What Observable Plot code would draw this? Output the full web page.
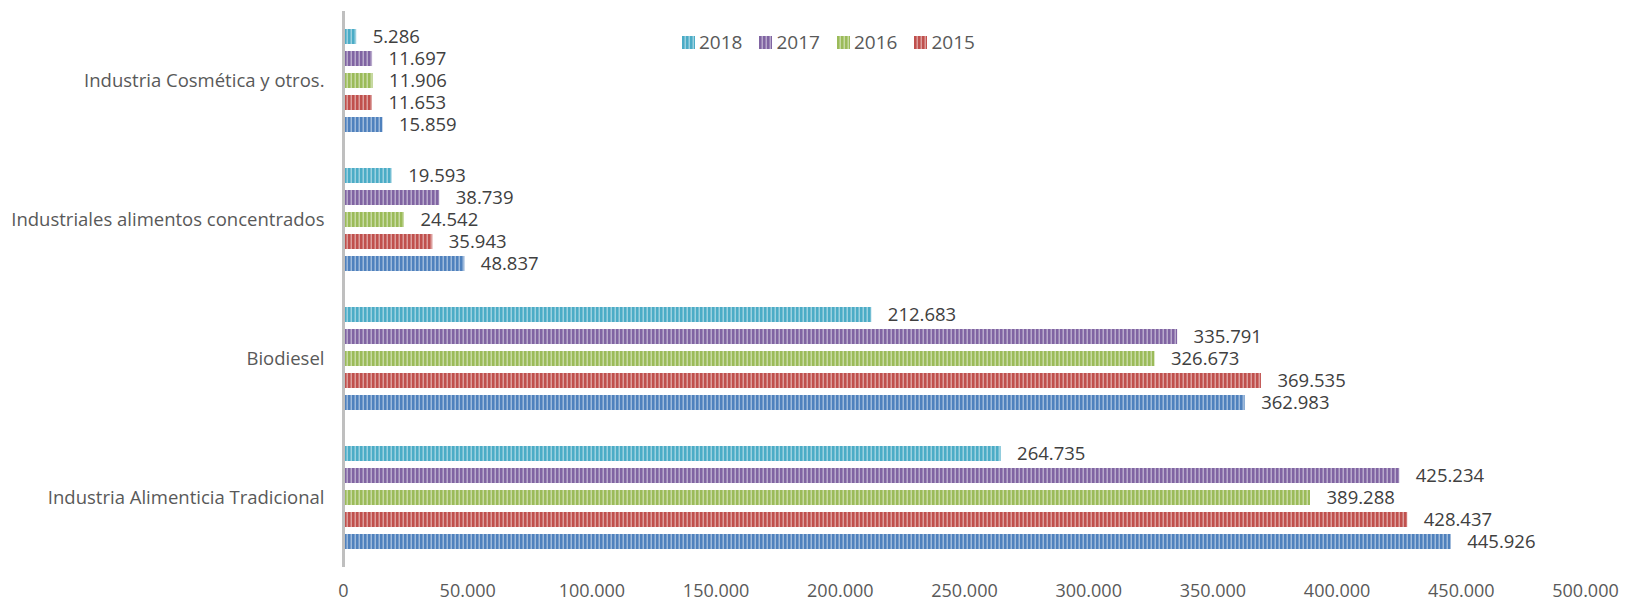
<!DOCTYPE html>
<html>
<head>
<meta charset="utf-8">
<script src="https://cdn.jsdelivr.net/npm/d3@7"></script>
<script src="https://cdn.jsdelivr.net/npm/@observablehq/plot@0.6"></script>
<style>
  html, body { margin: 0; padding: 0; background: #fff; }
  #wrap { position: relative; width: 1628px; height: 604px; font-family: "Open Sans", sans-serif; }
  #legend { position: absolute; top: 29px; left: 682px; display: flex; align-items: center; font-size: 19px; color: #595959; }
  #legend .item { display: flex; align-items: center; margin-right: 17px; }
  #legend svg { margin-right: 4px; }
</style>
</head>
<body>
<svg width="0" height="0" style="position:absolute">
  <defs id="defs"></defs>
</svg>
<div id="wrap">
  <div id="chart"></div>
  <div id="legend"></div>
</div>
<script>
const categories = ["Industria Cosmética y otros.", "Industriales alimentos concentrados", "Biodiesel", "Industria Alimenticia Tradicional"];
const series = ["2018", "2017", "2016", "2015", "2014"];
const legendSeries = ["2018", "2017", "2016", "2015"];
const v2018 = [5286, 19593, 212683, 264735];
const v2017 = [11697, 38739, 335791, 425234];
const v2016 = [11906, 24542, 326673, 389288];
const v2015 = [11653, 35943, 369535, 428437];
const v2014 = [15859, 48837, 362983, 445926];
const xTicks = [0, 50000, 100000, 150000, 200000, 250000, 300000, 350000, 400000, 450000, 500000];
const colors = ["#4BACC6", "#8064A2", "#9BBB59", "#C0504D", "#4F81BD"];

const valuesBySeries = {"2018": v2018, "2017": v2017, "2016": v2016, "2015": v2015, "2014": v2014};
const data = [];
categories.forEach((c, i) => series.forEach(s => data.push({category: c, series: s, value: valuesBySeries[s][i]})));

const locale = d3.formatLocale({decimal: ",", thousands: ".", grouping: [3], currency: ["", ""]});
const fmt = locale.format(",d");

// striped patterns
const defs = d3.select("#defs");
series.forEach((s, i) => {
  const light = d3.interpolateRgb(colors[i], "#ffffff")(0.45);
  const p = defs.append("pattern").attr("id", "pat" + s).attr("patternUnits", "userSpaceOnUse")
    .attr("width", 4).attr("height", 4);
  p.append("rect").attr("width", 4).attr("height", 4).attr("fill", light);
  p.append("rect").attr("width", 2.5).attr("height", 4).attr("fill", colors[i]);
});
const urls = series.map(s => `url(#pat${s})`);

const chart = Plot.plot({
  width: 1628,
  height: 604,
  marginLeft: 343,
  marginRight: 43,
  marginTop: 10,
  marginBottom: 37,
  style: {fontFamily: "Open Sans, sans-serif", fontSize: "18px", color: "#595959", background: "#fff"},
  x: {domain: [0, 500000]},
  y: {domain: series, paddingInner: 0.305, paddingOuter: 0.76, axis: null},
  fy: {domain: categories, padding: 0, label: null},
  color: {type: "ordinal", domain: series, range: urls},
  marks: [
    Plot.barX(data, {x: "value", y: "series", fy: "category", fill: "series"}),
    Plot.text(data, {x: "value", y: "series", fy: "category", text: d => fmt(d.value), textAnchor: "start", dx: 16, fill: "#404040", fontSize: 18.5}),
    Plot.ruleX([0], {stroke: "#BFBFBF", strokeWidth: 3}),
    Plot.axisX({ticks: xTicks, tickFormat: fmt, tickSize: 0, tickPadding: 17, label: null, fontSize: 18}),
    Plot.axisFy({anchor: "left", tickSize: 0, tickPadding: 19, label: null, fontSize: 18.5})
  ]
});
document.getElementById("chart").appendChild(chart);

// legend
const leg = d3.select("#legend");
legendSeries.forEach(s => {
  const item = leg.append("div").attr("class", "item");
  const sv = item.append("svg").attr("width", 13).attr("height", 13);
  sv.append("rect").attr("width", 13).attr("height", 13).attr("fill", `url(#pat${s})`);
  item.append("span").text(s);
});
</script>
</body>
</html>
